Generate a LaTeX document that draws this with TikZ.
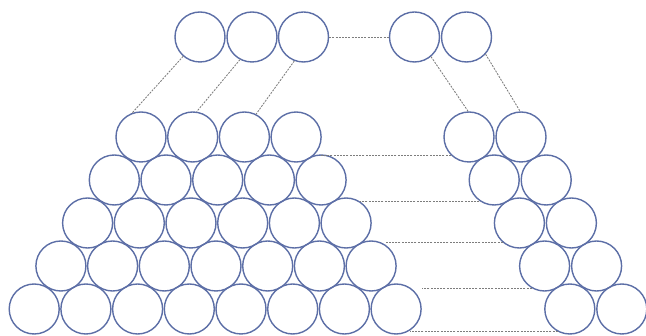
\documentclass[tikz,border=0pt]{standalone}
\definecolor{ringblue}{RGB}{92,110,166}
\definecolor{dashgray}{RGB}{125,125,125}
\tikzset{
  ball/.style={circle, draw=ringblue, line width=1.4pt, minimum size=50pt, inner sep=0pt},
  link/.style={draw=dashgray, line width=0.85pt, dash pattern=on 2pt off 1.2pt}
}
\begin{document}
\begin{tikzpicture}[x=1pt,y=-1pt]
\useasboundingbox (0,0) rectangle (646,336);
% top groups
\node[ball] (T1) at (200,37) {};
\node[ball] (T2) at (252,37) {};
\node[ball] (T3) at (303.5,37) {};
\node[ball] (U1) at (414.5,37) {};
\node[ball] (U2) at (466.5,37) {};
% left pyramid
\foreach \r/\n in {1/4,2/5,3/6,4/7,5/8}{
  \foreach \c in {1,...,\n}{
    \node[ball] (L-\r-\c) at ({141-26.7*(\r-1)+51.7*(\c-1)},{137+43*(\r-1)}) {};
  }
}
% right pyramid
\foreach \r in {1,...,5}{
  \foreach \c in {1,2}{
    \node[ball] (R-\r-\c) at ({469+25.2*(\r-1)+52*(\c-1)},{137+43*(\r-1)}) {};
  }
}
% connectors
\draw[link] (T3.east) -- (U1.west);
\draw[link] (T1.229) -- (L-1-1.110);
\draw[link] (T2.242) -- (L-1-2.81);
\draw[link] (T3.249) -- (L-1-3.63);
\draw[link] (U1.310) -- (R-1-1.92);
\draw[link] (U2.318) -- (R-1-2.92);
\draw[link] (R-1-1.225) -- (R-1-1.225 -| L-2-5.north);
\draw[link] (R-2-1.235) -- (R-2-1.235 -| L-3-6.57);
\draw[link] (R-3-1.230) -- (R-3-1.230 -| L-4-7.58);
\draw[link] (R-4-1.240) -- (R-4-1.240 -| L-5-8.east);
\draw[link] (R-5-1.242) -- (R-5-1.242 -| L-5-8.-56);
\end{tikzpicture}
\end{document}
